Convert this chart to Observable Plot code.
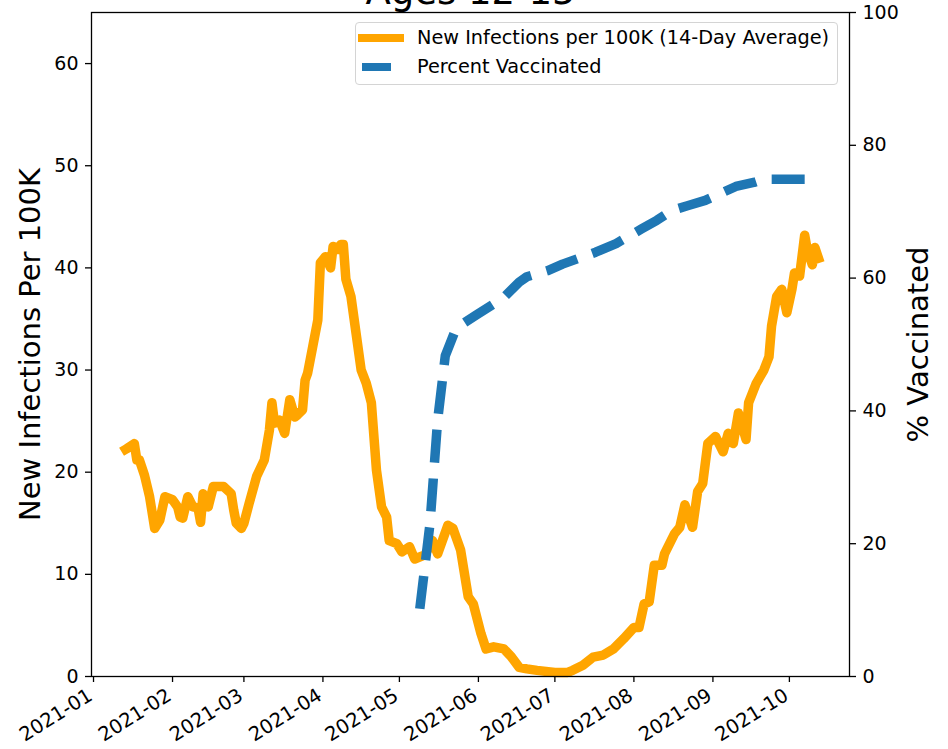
<!DOCTYPE html>
<html>
<head>
<meta charset="utf-8">
<script src="https://cdn.jsdelivr.net/npm/d3@7"></script>
<script src="https://cdn.jsdelivr.net/npm/@observablehq/plot@0.6"></script>
<style>
  body { margin: 0; background: #fff; font-family: "DejaVu Sans", sans-serif; }
  #wrap { position: relative; width: 948px; height: 749px; overflow: hidden; background: #fff; }
  #wrap svg { position: absolute; left: 0; top: 0; }
  #legend { position: absolute; left: 355px; top: 22px; width: 483px; height: 63px; box-sizing: border-box;
            border: 1px solid #d4d4d4; border-radius: 4px; background: rgba(255,255,255,0.8); }
  #legend .sw { position: absolute; height: 8px; }
  #legend .lab { position: absolute; left: 61px; font-size: 19.3px; line-height: 22px; color: #000; white-space: nowrap; }
</style>
</head>
<body>
<div id="wrap"></div>
<script>
// ---------- data ----------
const titleText = "Ages 12-15";
const yLeftLabel = "New Infections Per 100K";
const yRightLabel = "% Vaccinated";
const infLegend = "New Infections per 100K (14-Day Average)";
const vacLegend = "Percent Vaccinated";

const xTickDates = ["2021-01-01","2021-02-01","2021-03-01","2021-04-01","2021-05-01","2021-06-01","2021-07-01","2021-08-01","2021-09-01","2021-10-01"];
const xTickLabels = ["2021-01","2021-02","2021-03","2021-04","2021-05","2021-06","2021-07","2021-08","2021-09","2021-10"];
const yLeftTicks = [0, 10, 20, 30, 40, 50, 60];
const yRightTicks = [0, 20, 40, 60, 80, 100];

const infDates = [
  "2021-01-12","2021-01-14","2021-01-17","2021-01-18","2021-01-19","2021-01-21","2021-01-23","2021-01-25","2021-01-27","2021-01-29",
  "2021-02-01","2021-02-03","2021-02-04","2021-02-05","2021-02-07","2021-02-09","2021-02-11","2021-02-12","2021-02-13","2021-02-15",
  "2021-02-17","2021-02-19","2021-02-21","2021-02-24","2021-02-25","2021-02-26","2021-02-28","2021-03-01","2021-03-03","2021-03-06",
  "2021-03-09","2021-03-11","2021-03-12","2021-03-13","2021-03-15","2021-03-17","2021-03-19","2021-03-21","2021-03-22","2021-03-24",
  "2021-03-25","2021-03-26","2021-03-28","2021-03-30","2021-03-31","2021-04-02","2021-04-04","2021-04-05","2021-04-07","2021-04-08",
  "2021-04-09","2021-04-10","2021-04-12","2021-04-14","2021-04-16","2021-04-18","2021-04-20","2021-04-22","2021-04-24","2021-04-26",
  "2021-04-27","2021-04-30","2021-05-02","2021-05-05","2021-05-07","2021-05-11","2021-05-14","2021-05-16","2021-05-20","2021-05-22",
  "2021-05-25","2021-05-28","2021-05-30","2021-06-02","2021-06-04","2021-06-07","2021-06-11","2021-06-14","2021-06-17","2021-06-20",
  "2021-06-24","2021-07-01","2021-07-06","2021-07-08","2021-07-12","2021-07-16","2021-07-20","2021-07-24","2021-07-28","2021-08-01",
  "2021-08-03","2021-08-05","2021-08-07","2021-08-09","2021-08-12","2021-08-13","2021-08-17","2021-08-19","2021-08-21","2021-08-24",
  "2021-08-26","2021-08-28","2021-08-30","2021-09-02","2021-09-05","2021-09-07","2021-09-09","2021-09-11","2021-09-14","2021-09-15",
  "2021-09-18","2021-09-21","2021-09-23","2021-09-24","2021-09-26","2021-09-28","2021-09-30","2021-10-02","2021-10-03","2021-10-05",
  "2021-10-07","2021-10-08","2021-10-10","2021-10-11","2021-10-13"
];
const infValues = [
  22.0, 22.3, 22.8, 21.2, 21.2, 19.7, 17.6, 14.5, 15.3, 17.6,
  17.3, 16.6, 15.6, 15.5, 17.6, 16.6, 16.5, 15.1, 17.9, 16.6,
  18.6, 18.6, 18.6, 17.9, 16.3, 15.0, 14.5, 15.0, 16.9, 19.6,
  21.2, 24.1, 26.8, 24.8, 25.1, 23.8, 27.1, 25.4, 25.6, 26.1,
  29.0, 29.7, 32.3, 34.9, 40.5, 41.1, 40.0, 42.1, 41.8, 42.3,
  42.3, 38.9, 37.2, 33.6, 30.0, 28.7, 26.8, 20.2, 16.6, 15.6,
  13.3, 13.0, 12.2, 12.7, 11.5, 11.9, 13.3, 12.0, 14.8, 14.5,
  12.4, 7.8, 7.1, 4.2, 2.7, 2.9, 2.7, 1.9, 0.9, 0.75,
  0.6, 0.4, 0.4, 0.6, 1.1, 1.9, 2.1, 2.7, 3.7, 4.8,
  4.8, 7.1, 7.3, 10.9, 10.9, 12.0, 14.0, 14.6, 16.8, 14.6,
  18.1, 18.9, 22.8, 23.5, 22.0, 23.8, 22.8, 25.8, 23.2, 26.8,
  28.7, 30.0, 31.3, 34.3, 37.2, 37.9, 35.6, 37.9, 39.5, 39.2,
  43.2, 41.8, 40.3, 42.0, 40.5
];

const vacDates = [
  "2021-05-09","2021-05-13","2021-05-16","2021-05-19","2021-05-23","2021-05-25","2021-05-31","2021-06-11","2021-06-17","2021-06-20",
  "2021-06-28","2021-07-04","2021-07-17","2021-07-25","2021-08-04","2021-08-10","2021-08-16","2021-08-22","2021-08-29","2021-09-10",
  "2021-09-17","2021-09-21","2021-10-12"
];
const vacValues = [
  10.2, 23.0, 38.6, 48.3, 52.2, 52.9, 54.4, 57.1, 59.4, 60.2,
  61.1, 62.1, 63.9, 65.2, 67.4, 68.7, 70.2, 70.9, 71.7, 73.8,
  74.4, 74.9, 74.9
];

// ---------- build ----------
const inf = infDates.map((d, i) => ({date: new Date(d), value: infValues[i]}));
const vac = vacDates.map((d, i) => ({date: new Date(d), value: vacValues[i]}));
const xTicks = xTickDates.map(d => new Date(d));
const xFmt = d => xTickLabels[xTicks.findIndex(t => +t === +d)];

const W = 948, H = 749;
const margins = {marginLeft: 91, marginRight: 99, marginTop: 12, marginBottom: 73};
const xDomain = [new Date("2020-12-31T05:00:00Z"), new Date("2021-10-24T14:00:00Z")];
const font = {fontFamily: "DejaVu Sans", background: "transparent", overflow: "visible", color: "#000"};

const p1 = Plot.plot({
  width: W, height: H, ...margins,
  style: font,
  x: {type: "utc", domain: xDomain},
  y: {domain: [0, 65]},
  marks: [
    Plot.line(inf, {x: "date", y: "value", stroke: "#FFA500", strokeWidth: 9.5,
                    strokeLinejoin: "round", strokeLinecap: "butt"}),
    Plot.frame({stroke: "#000", strokeWidth: 1.3}),
    // tick marks only
    Plot.axisX({ticks: xTicks, tickFormat: () => "", tickSize: 6, strokeWidth: 1.3, label: null}),
    // rotated tick labels only
    Plot.axisX({ticks: xTicks, tickFormat: xFmt, tickRotate: -32, tickSize: 0, tickPadding: 10,
                dx: -3, dy: 7, fontSize: 19.5, label: null}),
    Plot.axisY({ticks: yLeftTicks, tickSize: 6, tickPadding: 7, fontSize: 19, strokeWidth: 1.3, label: null}),
    Plot.text([yLeftLabel], {frameAnchor: "left", textAnchor: "middle", dx: -61, rotate: -90, fontSize: 29, fill: "#000"}),
    Plot.text([titleText], {frameAnchor: "top", dy: -9, lineAnchor: "bottom", fontSize: 37, fill: "#000"})
  ]
});

const p2 = Plot.plot({
  width: W, height: H, ...margins,
  style: font,
  x: {type: "utc", domain: xDomain, axis: null},
  y: {domain: [0, 100]},
  marks: [
    Plot.line(vac, {x: "date", y: "value", stroke: "#1f77b4", strokeWidth: 9.5,
                    strokeDasharray: "33,16", strokeLinejoin: "round", strokeLinecap: "butt"}),
    Plot.axisY({anchor: "right", ticks: yRightTicks, tickSize: 6, tickPadding: 7, fontSize: 19, strokeWidth: 1.3, label: null}),
    Plot.text([yRightLabel], {frameAnchor: "right", textAnchor: "middle", dx: 69, rotate: -90, fontSize: 29, fill: "#000"})
  ]
});

const wrap = document.getElementById("wrap");
wrap.appendChild(p1);
wrap.appendChild(p2);

// legend
const leg = document.createElement("div");
leg.id = "legend";
leg.innerHTML =
  `<div class="sw" style="left:2px;top:11px;width:46px;background:#FFA500"></div>` +
  `<div class="lab" style="top:4px"></div>` +
  `<div class="sw" style="left:6px;top:40px;width:29px;background:#1f77b4"></div>` +
  `<div class="lab" style="top:33px"></div>`;
const labs = leg.querySelectorAll(".lab");
labs[0].textContent = infLegend;
labs[1].textContent = vacLegend;
wrap.appendChild(leg);
</script>
</body>
</html>
